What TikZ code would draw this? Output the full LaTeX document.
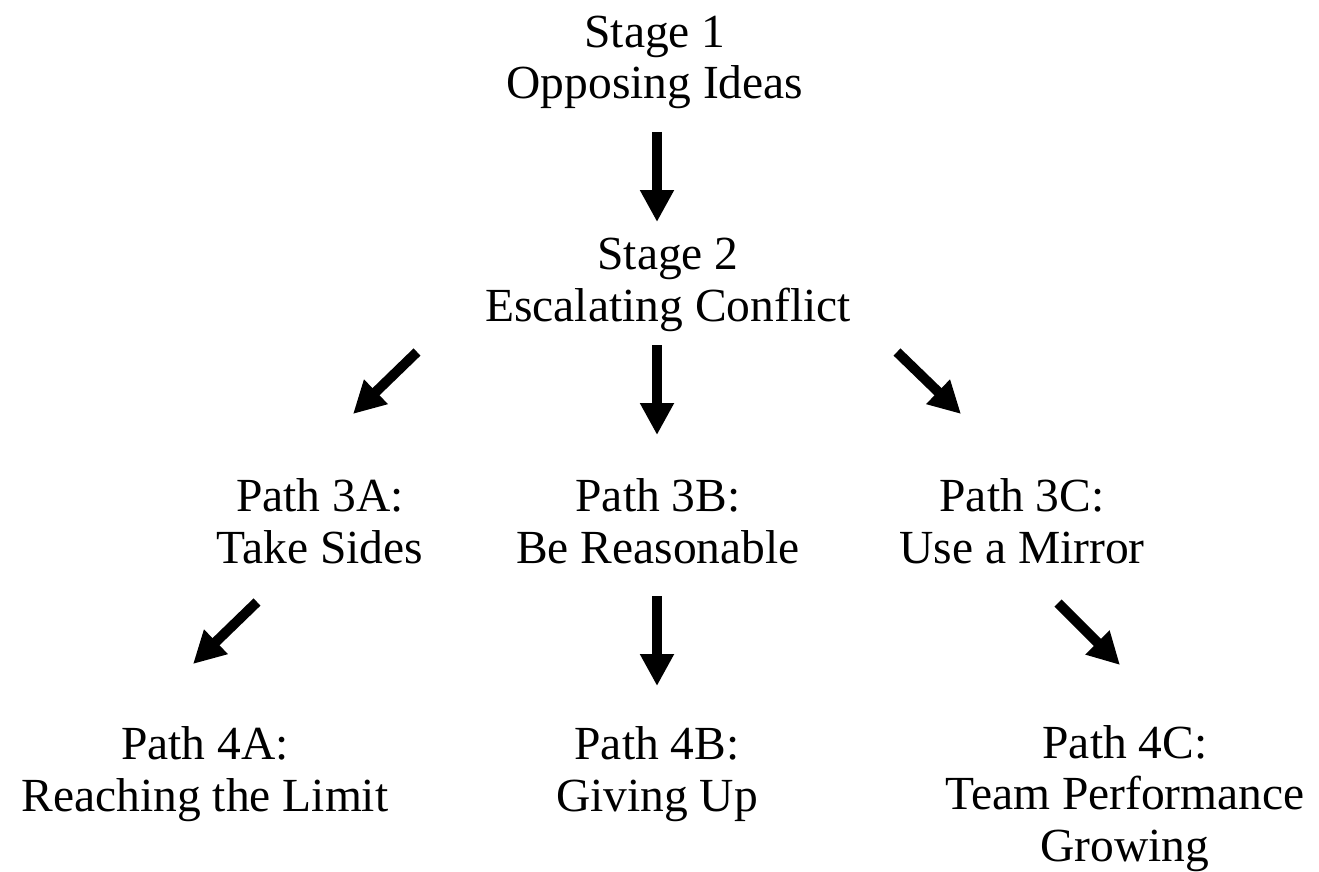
\documentclass[tikz,border=0pt]{standalone}
\usepackage{fontspec}
\setmainfont{Liberation Serif}
\usetikzlibrary{arrows.meta}
\begin{document}
\begin{tikzpicture}[x=1pt,y=-1pt,
  lbl/.style={align=center,inner sep=0pt,anchor=base,font=\fontsize{47.5}{51.5}\selectfont},
  bigarrow/.style={line width=10pt,-{Triangle[width=32pt,length=32pt]}}]
\useasboundingbox (0,0) rectangle (1319,872);
\node[lbl] (s1) at (655,99) {Stage 1\\Opposing Ideas};
\node[lbl] (s2) at (668,321) {Stage 2\\Escalating Conflict};
\node[lbl] (p3a) at (320,563) {Path 3A:\\Take Sides};
\node[lbl] (p3b) at (658,563) {Path 3B:\\Be Reasonable};
\node[lbl] (p3c) at (1022,563) {Path 3C:\\Use a Mirror};
\node[lbl] (p4a) at (205,811) {Path 4A:\\Reaching the Limit};
\node[lbl] (p4b) at (657,811) {Path 4B:\\Giving Up};
\node[lbl] (p4c) at (1125,861) {Path 4C:\\Team Performance\\Growing};
\coordinate (a1s) at (657,132); \coordinate (a1e) at (657,222);
\coordinate (a2s) at (417,352); \coordinate (a2e) at (353,414);
\coordinate (a3s) at (657,345); \coordinate (a3e) at (657,435);
\coordinate (a4s) at (897,352); \coordinate (a4e) at (961,414);
\coordinate (a5s) at (257,602); \coordinate (a5e) at (193,664);
\coordinate (a6s) at (657,596); \coordinate (a6e) at (657,686);
\coordinate (a7s) at (1058,603); \coordinate (a7e) at (1120,665);
\draw[bigarrow] (a1s) -- (a1e);
\draw[bigarrow] (a2s) -- (a2e);
\draw[bigarrow] (a3s) -- (a3e);
\draw[bigarrow] (a4s) -- (a4e);
\draw[bigarrow] (a5s) -- (a5e);
\draw[bigarrow] (a6s) -- (a6e);
\draw[bigarrow] (a7s) -- (a7e);
\end{tikzpicture}
\end{document}
